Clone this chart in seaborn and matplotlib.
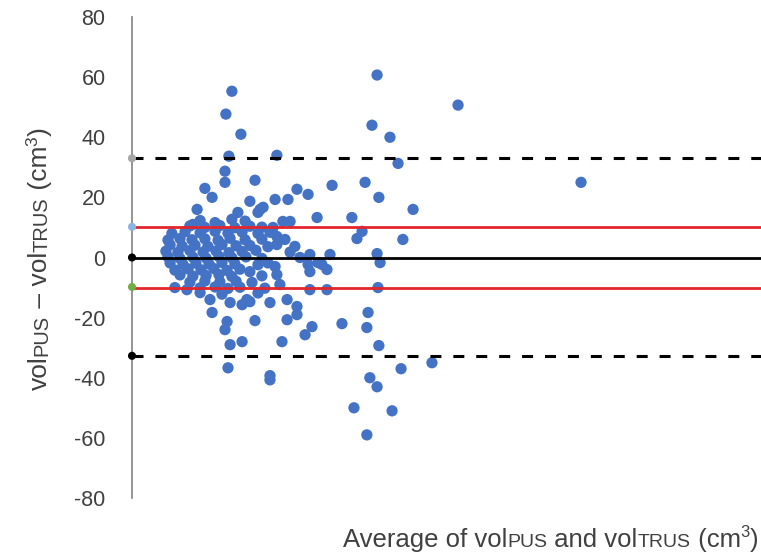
import matplotlib
matplotlib.use("Agg")
import matplotlib.pyplot as plt
import pandas as pd
import seaborn as sns

# ---- data ----
avg_spread = [33.3, 31.3, 36.3, 32.3, 48.3, 31.0, 31.0, 41.0, 24.3, 26.7,
              21.7, 55.0, 58.7, 66.7, 77.7, 81.7, 80.0, 86.0, 88.7, 82.3,
              61.7, 73.3, 76.7, 75.0, 81.7, 82.7, 66.0, 59.3, 108.7, 93.7,
              90.3, 149.7, 82.0, 78.7, 70.0, 78.3, 82.3, 89.7, 100.0, 79.3,
              81.7, 74.0, 86.7, 78.3, 62.0, 59.3, 65.0, 59.3, 65.0, 58.7,
              63.3, 26.0, 26.7, 31.7, 31.0, 41.0, 38.3, 46.0, 51.7, 55.0,
              51.7, 55.0, 60.0, 57.7, 50.0, 32.7, 36.7, 32.0, 46.0, 46.0,
              14.3, 18.3, 22.7, 32.7, 36.7, 39.3, 48.3, 54.3, 47.7, 48.3,
              49.3, 50.3, 52.7, 47.0, 48.3, 39.3, 35.3, 33.3, 42.7, 47.7,
              43.7, 52.0, 42.0, 20.3, 39.3]
diff_spread = [55.3, 47.7, 41.0, 33.7, 34.0, 28.7, 25.0, 25.7, 23.0, 20.0,
               16.0, 22.7, 21.0, 24.0, 25.0, 60.7, 44.0, 40.0, 31.3, 20.0,
               13.3, 13.3, 8.7, 6.3, 1.3, -1.7, 1.0, 1.0, 50.7, 16.0,
               6.0, 25.0, -10.0, -18.3, -22.0, -23.3, -29.3, -37.0, -35.0, -40.0,
               -43.0, -50.0, -51.0, -59.0, -1.7, -4.7, -4.0, -10.7, -10.7, -2.3,
               -2.3, -14.0, -18.3, -21.3, -24.0, -21.0, -14.0, -15.0, -14.0, -16.3,
               -20.7, -19.0, -23.0, -25.7, -28.0, -29.0, -28.0, -36.7, -39.3, -40.7,
               -10.0, -10.7, -11.7, -15.0, -15.7, -14.7, 4.3, 3.7, -3.0, -5.7,
               -9.0, 12.0, 12.0, 10.0, 7.0, 18.7, 15.0, 12.7, 16.0, 19.3,
               16.7, 19.3, 15.0, 11.0, -4.7]

avg_core = [22.7, 27.7, 37.7,
            19.3, 24.3, 29.3, 34.3, 39.3, 43.3,
            13.3, 17.7, 22.7, 27.7, 32.0, 36.7, 42.0, 46.0,
            12.0, 16.0, 20.0, 24.3, 28.7, 32.7, 37.7, 43.3, 51.0,
            12.7, 16.7, 21.0, 25.3, 30.0, 34.7, 39.3, 45.3,
            11.3, 15.3, 19.3, 23.7, 28.0, 32.3, 36.7, 41.3, 52.7,
            12.0, 16.0, 20.3, 24.7, 29.0, 33.3, 38.0, 43.3, 56.0,
            12.7, 17.0, 21.3, 25.7, 30.0, 34.3, 42.0, 45.3,
            14.3, 18.7, 23.0, 27.3, 31.7, 36.0,
            16.0, 20.3, 24.7, 29.0, 33.3, 43.3,
            19.3, 24.3, 29.3, 34.7, 40.0,
            22.7, 27.7, 32.0, 36.0, 44.3,
            30.0, 42.0]
diff_core = [12.3, 11.6, 12.1,
             10.5, 10.0, 10.6, 9.9, 10.4, 10.1,
             8.0, 8.6, 8.2, 8.7, 8.1, 8.5, 8.0, 8.4,
             5.8, 6.3, 5.9, 6.2, 5.7, 6.4, 5.9, 6.1, 6.0,
             4.2, 3.8, 4.1, 3.7, 4.3, 3.9, 4.0, 3.6,
             2.1, 1.7, 2.3, 1.8, 2.2, 1.6, 2.0, 2.4, 1.8,
             0.2, -0.3, 0.1, -0.2, 0.3, -0.1, 0.2, -0.3, 0.0,
             -1.8, -2.3, -1.9, -2.2, -1.7, -2.1, -2.4, -1.8,
             -4.2, -3.8, -4.1, -3.7, -4.3, -3.9,
             -5.8, -6.2, -6.0, -5.7, -6.3, -6.1,
             -8.2, -7.8, -8.1, -7.9, -8.3,
             -10.1, -9.8, -10.3, -9.9, -10.2,
             -12.2, -11.8]

upper_loa = 33.0
upper_sd = 10.2
mean_diff = 0.0
lower_sd = -10.0
lower_loa = -32.7

axis_marker_values = [33.0, 10.2, 0.0, -9.8, -32.7]
axis_marker_colors = ["#a6a6a6", "#8eb4e3", "#000000", "#70ad47", "#000000"]

y_ticks = [-80, -60, -40, -20, 0, 20, 40, 60, 80]

# ---- plot ----
sns.set_theme(style="white")
plt.rcParams['font.family'] = ['Liberation Sans', 'DejaVu Sans']

W, H = 761, 555
fig = plt.figure(figsize=(W / 100, H / 100), dpi=100)
ax = fig.add_axes([132 / W, 1 - 498 / H, 629 / W, (498 - 17) / H])

df = pd.DataFrame({"avg": avg_spread + avg_core, "diff": diff_spread + diff_core})
sns.scatterplot(data=df, x="avg", y="diff", s=66, color="#4472c4",
                edgecolor="none", linewidth=0, ax=ax, zorder=2)

ax.axhline(upper_loa, color="black", lw=2.2, ls=(0, (3.6, 3.9)), zorder=3)
ax.axhline(lower_loa, color="black", lw=2.2, ls=(0, (3.6, 3.9)), zorder=3)
ax.axhline(upper_sd, color="#e3262c", lw=2.0, zorder=3)
ax.axhline(lower_sd, color="#e3262c", lw=2.0, zorder=3)
ax.axhline(mean_diff, color="black", lw=2.0, zorder=3)

ax.scatter([0] * len(axis_marker_values), axis_marker_values, c=axis_marker_colors,
           s=34, zorder=6, clip_on=False, linewidths=0)

ax.set_xlim(0, 209.7)
ax.set_ylim(-80, 80)
ax.set_yticks(y_ticks)
ax.set_yticklabels([str(v) for v in y_ticks])
ax.set_xticks([])
ax.set_xlabel("")
ax.set_ylabel("")
ax.tick_params(axis="y", length=0, pad=19, labelsize=15.5, labelcolor="#404040")
for side in ["top", "right", "bottom"]:
    ax.spines[side].set_visible(False)
ax.spines["left"].set_color("#8c8c8c")
ax.spines["left"].set_linewidth(1.3)

TXT = "#404040"
BIG, SMALL, SUP = 18.5, 14, 12


def chain_horizontal(pieces, x0, y0):
    prev = None
    for text, size, rise in pieces:
        if prev is None:
            prev = ax.annotate(text, xy=(x0, y0), xycoords="figure fraction",
                               xytext=(0, rise), textcoords="offset points",
                               ha="left", va="baseline", fontsize=size,
                               color=TXT, annotation_clip=False)
        else:
            prev = ax.annotate(text, xy=(1, y0), xycoords=(prev, "figure fraction"),
                               xytext=(0, rise), textcoords="offset points",
                               ha="left", va="baseline", fontsize=size,
                               color=TXT, annotation_clip=False)


def chain_vertical(pieces, x0, y0):
    prev = None
    for text, size, rise in pieces:
        if prev is None:
            prev = ax.annotate(text, xy=(x0, y0), xycoords="figure fraction",
                               xytext=(-rise, 0), textcoords="offset points",
                               ha="left", va="baseline", rotation=90,
                               rotation_mode="anchor", fontsize=size,
                               color=TXT, annotation_clip=False)
        else:
            prev = ax.annotate(text, xy=(x0, 1), xycoords=("figure fraction", prev),
                               xytext=(-rise, 0), textcoords="offset points",
                               ha="left", va="baseline", rotation=90,
                               rotation_mode="anchor", fontsize=size,
                               color=TXT, annotation_clip=False)


chain_horizontal([("Average of vol", BIG, 0), ("PUS", SMALL, 0), (" and vol", BIG, 0),
                  ("TRUS", SMALL, 0), (" (cm", BIG, 0), ("3", SUP, 7), (")", BIG, 0)],
                 343 / W, 1 - 547 / H)
chain_vertical([("vol", 19, 0), ("PUS", 14.5, 0), (" \u2013 vol", 19, 0),
                ("TRUS", 14.5, 0), (" (cm", 19, 0), ("3", 12.5, 7), (")", 19, 0)],
               47 / W, 1 - 390 / H)

fig.savefig("out.png", dpi=100)
